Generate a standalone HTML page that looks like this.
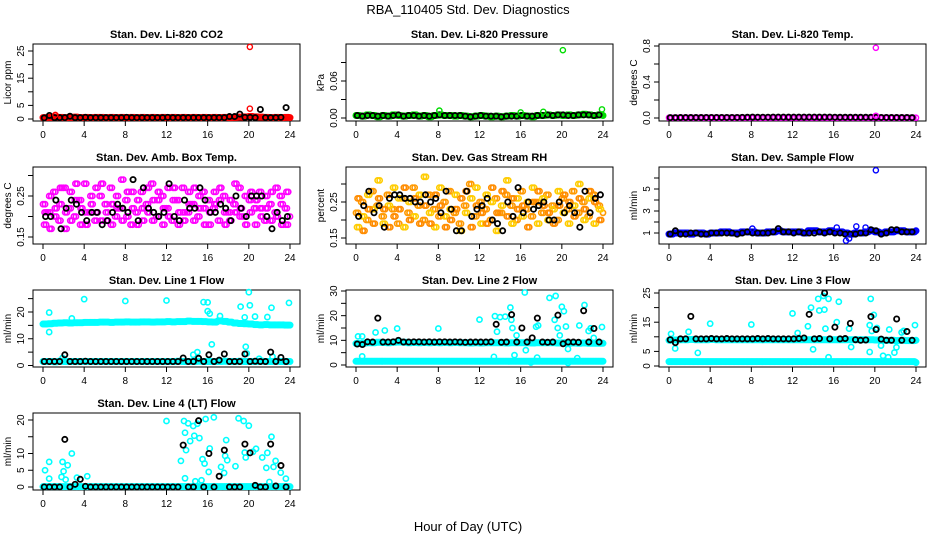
<!DOCTYPE html>
<html><head><meta charset="utf-8">
<style>
html,body{margin:0;padding:0;background:#fff;}
svg{display:block;font-family:"Liberation Sans",sans-serif;}
</style></head>
<body>
<svg id="chart" width="936" height="540" viewBox="0 0 936 540" xmlns="http://www.w3.org/2000/svg">
<text x="468" y="14" text-anchor="middle" font-size="13">RBA_110405  Std. Dev. Diagnostics</text>
<text x="468" y="531" text-anchor="middle" font-size="13">Hour of Day (UTC)</text>
</svg>
<script>
const hours = [0,0.5,1,1.5,2,2.5,3,3.5,4,4.5,5,5.5,6,6.5,7,7.5,8,8.5,9,9.5,10,10.5,11,11.5,12,12.5,13,13.5,14,14.5,15,15.5,16,16.5,17,17.5,18,18.5,19,19.5,20,20.5,21,21.5,22,22.5,23,23.5,24];
const xTicks = [0,4,8,12,16,20,24];

const co2Red = [0.5,0.6,0.8,0.6,0.5,0.6,0.7,0.5,0.6,0.5,0.6,0.6,0.5,0.6,0.5,0.6,0.5,0.6,0.5,0.6,0.5,0.6,0.5,0.6,0.5,0.6,0.5,0.6,0.5,0.6,0.5,0.6,0.5,0.6,0.5,0.6,0.5,0.6,0.7,0.8,0.9,0.8,0.7,0.6,0.5,0.6,0.5,0.6,0.5];
const co2Black = [0.4,1.3,0.5,0.5,0.5,1.0,0.5,0.5,0.6,0.5,0.5,0.5,0.5,0.5,0.5,0.5,0.6,0.5,0.5,0.5,0.5,0.5,0.5,0.5,0.6,0.5,0.5,0.5,0.5,0.5,0.5,0.5,0.5,0.5,0.5,0.5,0.9,0.9,1.8,0.6,0.6,0.5,3.5,0.5,0.5,0.5,0.6,4.2,0.5];
const co2RedOut = [[20.1,26.5],[20.1,3.8],[1.2,1.5]];

const presGreen = [0.004,0.003,0.005,0.004,0.002,0.004,0.003,0.005,0.004,0.003,0.004,0.005,0.003,0.004,0.002,0.004,0.005,0.004,0.004,0.003,0.004,0.003,0.002,0.003,0.004,0.003,0.002,0.003,0.002,0.003,0.004,0.003,0.004,0.003,0.002,0.004,0.004,0.005,0.004,0.005,0.004,0.005,0.004,0.005,0.006,0.005,0.004,0.005,0.004];
const presBlack = [0.004,0.003,0.004,0.004,0.003,0.004,0.003,0.004,0.005,0.003,0.004,0.004,0.003,0.004,0.003,0.004,0.005,0.004,0.004,0.004,0.004,0.003,0.002,0.003,0.004,0.003,0.003,0.003,0.002,0.003,0.003,0.003,0.004,0.003,0.003,0.004,0.004,0.005,0.004,0.005,0.005,0.004,0.004,0.005,0.005,0.005,0.004,0.005,0.004];
const presGreenOut = [[8.1,0.012],[16,0.009],[18.2,0.010],[20.1,0.110],[23.9,0.014]];

const tempMag = [0.003,0.003,0.004,0.003,0.003,0.004,0.003,0.003,0.004,0.003,0.003,0.004,0.003,0.003,0.004,0.003,0.005,0.004,0.003,0.004,0.005,0.004,0.004,0.005,0.004,0.004,0.005,0.004,0.004,0.005,0.004,0.004,0.004,0.004,0.004,0.004,0.004,0.004,0.004,0.004,0.005,0.003,0.003,0.003,0.003,0.003,0.003,0.003,0.003];
const tempBlack = [0.004,0.004,0.005,0.005,0.005,0.005,0.005,0.006,0.006,0.006,0.006,0.006,0.006,0.006,0.007,0.008,0.010,0.009,0.009,0.009,0.010,0.010,0.010,0.010,0.010,0.010,0.010,0.010,0.010,0.010,0.010,0.010,0.009,0.008,0.008,0.008,0.008,0.008,0.008,0.008,0.008,0.006,0.006,0.005,0.005,0.005,0.005,0.004,0.004];
const tempMagOut = [[20.1,0.78],[20.1,0.025]];

const ambA = [0.23,0.21,0.26,0.19,0.27,0.22,0.20,0.24,0.28,0.21,0.19,0.25,0.23,0.27,0.20,0.22,0.24,0.18,0.21,0.26,0.23,0.28,0.20,0.25,0.22,0.19,0.24,0.27,0.21,0.23,0.20,0.26,0.24,0.22,0.19,0.25,0.21,0.23,0.27,0.20,0.24,0.22,0.26,0.19,0.23,0.21,0.25,0.22,0.20];
const ambB = [0.18,0.25,0.20,0.23,0.17,0.26,0.24,0.18,0.21,0.25,0.27,0.19,0.21,0.18,0.25,0.29,0.20,0.26,0.18,0.22,0.27,0.19,0.24,0.18,0.27,0.24,0.18,0.21,0.26,0.19,0.25,0.22,0.18,0.26,0.24,0.21,0.19,0.28,0.20,0.25,0.21,0.18,0.22,0.25,0.19,0.27,0.23,0.18,0.24];
const ambC = [0.21,0.17,0.22,0.27,0.21,0.19,0.28,0.22,0.18,0.23,0.21,0.28,0.19,0.23,0.22,0.19,0.26,0.22,0.24,0.19,0.21,0.24,0.26,0.22,0.20,0.27,0.21,0.19,0.23,0.27,0.22,0.18,0.21,0.23,0.27,0.18,0.24,0.21,0.22,0.18,0.26,0.24,0.20,0.22,0.26,0.20,0.18,0.26,0.22];
const ambBlack = [0.20,0.20,0.24,0.17,0.22,0.24,0.23,0.21,0.19,0.21,0.21,0.18,0.19,0.21,0.23,0.22,0.21,0.29,0.19,0.27,0.22,0.21,0.20,0.21,0.28,0.20,0.19,0.24,0.22,0.22,0.27,0.24,0.21,0.21,0.23,0.22,0.19,0.25,0.22,0.20,0.25,0.25,0.25,0.20,0.17,0.21,0.19,0.20,0.22];

const rhA = [0.22,0.25,0.20,0.28,0.24,0.21,0.27,0.23,0.19,0.26,0.22,0.29,0.24,0.20,0.27,0.23,0.21,0.25,0.28,0.22,0.19,0.24,0.30,0.21,0.25,0.23,0.20,0.26,0.22,0.27,0.24,0.20,0.28,0.23,0.21,0.25,0.22,0.27,0.24,0.20,0.26,0.23,0.28,0.22,0.25,0.21,0.27,0.24,0.22];
const rhB = [0.18,0.21,0.27,0.23,0.31,0.19,0.24,0.29,0.26,0.18,0.25,0.21,0.27,0.32,0.22,0.18,0.29,0.21,0.23,0.27,0.17,0.22,0.26,0.29,0.19,0.27,0.25,0.17,0.24,0.31,0.19,0.26,0.21,0.25,0.29,0.19,0.26,0.20,0.23,0.28,0.22,0.19,0.24,0.30,0.20,0.26,0.19,0.23,0.32];
const rhC = [0.26,0.17,0.23,0.19,0.26,0.23,0.18,0.21,0.23,0.29,0.20,0.26,0.19,0.24,0.19,0.27,0.24,0.18,0.20,0.23,0.26,0.28,0.18,0.24,0.22,0.19,0.29,0.22,0.28,0.21,0.26,0.23,0.24,0.18,0.25,0.28,0.24,0.22,0.19,0.24,0.27,0.25,0.21,0.26,0.23,0.28,0.25,0.20,0.26];
const rhBlack = [0.21,0.24,0.28,0.22,0.24,0.18,0.26,0.27,0.27,0.26,0.26,0.25,0.25,0.27,0.25,0.26,0.22,0.28,0.23,0.17,0.17,0.28,0.21,0.23,0.24,0.26,0.20,0.19,0.17,0.25,0.21,0.29,0.22,0.25,0.23,0.24,0.25,0.20,0.20,0.25,0.22,0.24,0.22,0.18,0.28,0.22,0.26,0.27,0.20];

const flowBlue = [0.9,1.0,1.0,1.0,0.9,1.0,1.0,0.9,1.0,1.0,1.1,1.1,1.0,1.0,1.1,1.1,1.1,1.0,1.0,1.1,1.1,1.2,1.1,1.1,1.1,1.1,1.0,1.2,1.2,1.1,1.1,1.2,1.1,1.1,1.0,0.9,1.0,1.0,1.1,1.2,1.1,1.0,1.1,1.1,1.2,1.2,1.1,1.1,1.2];
const flowBlack = [0.9,1.2,0.9,0.9,1.0,1.0,0.9,0.9,1.0,1.0,1.0,1.0,1.0,0.9,1.0,1.1,1.0,1.0,1.0,1.0,1.1,1.4,1.1,1.1,1.0,1.1,1.0,1.0,1.0,1.1,1.0,1.1,1.0,1.0,0.9,0.9,0.9,1.0,1.0,1.3,1.2,0.9,1.0,1.3,1.3,1.1,1.1,1.1,1.3];
const flowBlueOut = [[17.2,0.3],[17.5,0.5],[18.2,1.6],[16.3,1.5],[19.1,1.5],[8.1,1.4],[20.1,6.7]];

const l1Hi = [15.5,15.6,15.8,15.9,16.0,15.9,16.0,16.0,16.1,16.1,16.1,16.2,16.2,16.1,16.2,16.2,16.3,16.2,16.2,16.3,16.3,16.2,16.3,16.3,16.4,16.3,16.4,16.4,16.6,16.5,16.5,16.4,16.3,16.2,16.7,16.5,16.2,15.9,15.7,15.6,15.5,15.3,15.2,15.3,15.2,15.2,15.2,15.1,15.1];
const l1Lo = [1.5,1.5,1.4,1.6,1.5,1.5,1.5,1.5,1.5,1.5,1.5,1.5,1.5,1.5,1.5,1.5,1.5,1.5,1.5,1.5,1.5,1.5,1.5,1.5,1.5,1.5,1.6,1.5,1.5,1.5,1.6,1.5,1.5,1.5,1.5,1.6,1.5,1.5,1.6,1.5,1.5,1.5,1.6,1.5,1.5,1.6,1.5,1.5,1.5];
const l1Black = [1.5,1.5,1.5,1.5,4.0,1.5,1.5,1.5,1.6,1.5,1.5,1.5,1.5,1.5,1.5,1.5,1.5,1.5,1.5,1.5,1.5,1.5,1.5,1.5,1.5,1.5,1.5,2.8,1.5,1.5,2.7,1.5,4.0,1.5,2.0,4.3,1.5,1.5,1.5,4.3,1.5,1.6,1.5,1.5,5.0,1.5,3.0,1.5,1.5];
const l1Out = [[0.6,19.8],[0.6,12.5],[2.8,17.6],[4.0,24.8],[8.0,24.1],[12.0,24.3],[15.6,23.7],[16.0,23.6],[16.0,20.3],[16.2,19.4],[16.4,7.9],[15.0,5.0],[14.6,4.0],[17.2,18.5],[19.2,22.0],[19.6,18.0],[19.7,7.0],[19.8,4.5],[20.0,27.4],[20.1,22.5],[20.6,18.3],[21.8,18.1],[22.2,21.6],[23.9,23.4],[22.3,3.3],[1.9,2.8],[21.0,2.5]];

const l2Hi = [8.7,8.8,9.0,9.0,9.2,9.1,9.0,9.2,9.3,9.2,9.0,9.1,9.0,9.1,9.0,9.1,9.0,9.1,9.0,9.1,9.0,9.0,8.9,9.0,8.9,9.0,9.0,9.0,9.0,8.9,9.0,9.0,9.0,9.0,8.9,9.0,9.0,9.0,9.0,8.9,9.0,8.8,8.9,8.8,8.9,8.8,8.8,8.8,8.8];
const l2Lo = [1.5,1.5,1.5,1.5,1.5,1.5,1.5,1.5,1.5,1.5,1.5,1.5,1.5,1.5,1.5,1.5,1.5,1.5,1.5,1.5,1.5,1.5,1.5,1.5,1.5,1.5,1.5,1.5,1.5,1.5,1.5,1.5,1.5,1.5,1.5,1.5,1.5,1.5,1.5,1.5,1.5,1.5,1.5,1.5,1.5,1.5,1.5,1.5,1.5];
const l2Black = [8.5,8.3,9.4,9.3,19.0,9.3,9.3,9.4,10.0,9.3,9.3,9.4,9.4,9.3,9.4,9.3,9.4,9.4,9.3,9.4,9.3,9.2,9.3,9.3,9.3,9.3,9.4,16.5,9.2,9.3,20.4,9.3,15.0,9.3,11.0,19.0,9.3,9.2,9.3,20.2,8.6,9.3,9.3,9.2,22.0,9.3,14.8,9.3,9.1];
const l2Out = [[0.2,11.6],[0.6,11.6],[0.6,3.5],[1.9,13.2],[2.8,14.0],[4.0,14.8],[8.0,14.8],[12.0,18.4],[13.5,19.8],[13.7,13.5],[14.0,19.4],[14.5,19.6],[15.0,23.3],[15.1,18.3],[15.2,15.0],[15.6,12.0],[16.4,29.4],[16.5,6.0],[17.5,15.5],[17.7,16.0],[18.8,27.2],[19.4,28.0],[19.3,18.3],[19.6,15.0],[19.8,12.0],[20.0,23.6],[20.2,21.8],[20.4,15.6],[20.6,6.5],[21.7,16.0],[22.2,24.3],[22.6,13.8],[22.8,14.9],[23.9,15.4],[13.4,3.3],[15.4,4.0],[17.0,1.0],[17.6,3.0],[20.6,0.8],[21.5,2.8],[23.1,11.0]];

const l3Hi = [8.8,8.9,9.0,9.0,9.1,9.0,9.0,9.0,9.1,9.0,9.0,9.0,9.0,9.0,9.0,9.0,9.0,9.0,9.0,9.0,9.0,9.0,9.0,9.0,9.0,9.0,9.0,9.0,9.0,9.0,9.0,9.0,9.0,9.0,9.0,9.0,9.0,9.0,9.0,9.0,8.9,8.8,8.8,8.8,8.7,8.8,8.7,8.7,8.8];
const l3Lo = [1.5,1.5,1.5,1.5,1.5,1.5,1.5,1.5,1.5,1.5,1.5,1.5,1.5,1.5,1.5,1.5,1.5,1.5,1.5,1.5,1.5,1.5,1.5,1.5,1.5,1.5,1.5,1.5,1.5,1.5,1.5,1.5,1.5,1.5,1.5,1.5,1.5,1.5,1.5,1.5,1.5,1.5,1.5,1.5,1.5,1.5,1.5,1.5,1.2];
const l3Black = [9.0,8.0,9.3,9.3,17.0,9.3,9.3,9.3,9.4,9.3,9.3,9.4,9.3,9.3,9.3,9.3,9.3,9.4,9.3,9.4,9.3,9.3,9.3,9.3,9.3,9.4,9.6,17.7,9.3,9.4,25.0,9.3,13.3,9.3,9.4,14.6,9.0,8.8,8.9,16.9,12.5,9.2,8.8,8.8,16.1,8.8,11.8,8.8,8.8];
const l3Out = [[0.2,11.0],[0.6,6.0],[1.9,11.7],[2.8,4.5],[4.0,14.5],[8.0,14.2],[12.0,18.0],[12.5,11.3],[13.5,13.6],[13.8,20.0],[14.0,5.7],[14.5,23.0],[14.6,19.0],[15.0,24.0],[15.1,19.3],[15.2,12.8],[15.5,23.0],[16.3,15.0],[16.5,22.0],[17.5,12.8],[17.7,6.5],[19.5,14.0],[19.6,23.0],[19.7,12.0],[19.9,17.5],[20.2,13.0],[20.6,7.0],[20.8,3.5],[21.4,12.5],[21.9,4.6],[22.1,6.4],[22.6,11.5],[22.8,12.0],[23.9,14.0],[15.5,3.0],[19.5,4.8],[21.3,3.0]];

const l4Lo = [0.1,0.1,0.1,0.1,0.1,0.1,0.1,0.1,0.1,0.1,0.1,0.1,0.1,0.1,0.1,0.1,0.1,0.1,0.1,0.1,0.1,0.1,0.1,0.1,0.1,0.1,0.1,0.1,0.1,0.1,0.1,0.1,0.1,0.1,0.1,0.1,0.1,0.1,0.1,0.1,0.1,0.1,0.1,0.1,0.1,0.1,0.1,0.1,0.1];
const l4Black = [0.0,0.0,0.0,0.0,14.2,0.0,0.8,2.3,0.2,0.0,0.0,0.0,0.0,0.0,0.0,0.0,0.0,0.0,0.0,0.0,0.0,0.0,0.0,0.0,0.0,0.0,0.0,12.5,0.0,0.0,19.8,0.0,10.0,0.0,3.2,11.0,0.0,0.0,0.0,12.8,10.2,0.5,0.0,0.0,12.8,0.3,6.4,0.0,0.2];
const l4Out = [[0.2,5.0],[0.6,7.5],[0.6,2.5],[1.8,3.0],[1.9,7.5],[2.0,4.7],[2.2,2.2],[2.4,6.5],[2.8,10.0],[3.3,2.8],[4.3,3.2],[12.0,19.7],[13.4,7.8],[13.7,19.7],[13.8,16.2],[13.9,11.0],[14.1,19.0],[14.3,13.7],[14.6,18.2],[14.7,15.3],[15.0,18.9],[15.2,14.6],[15.5,8.3],[15.8,20.3],[15.7,7.0],[16.1,4.5],[16.2,11.5],[16.6,20.8],[17.3,6.0],[17.6,4.2],[17.7,9.3],[17.9,8.0],[17.8,14.0],[18.7,6.2],[19.0,20.5],[19.5,19.7],[19.6,10.3],[19.7,8.8],[20.0,18.3],[20.4,10.5],[20.7,11.4],[21.3,8.8],[21.8,10.2],[21.7,5.7],[22.2,15.0],[22.6,7.8],[22.4,6.0],[23.1,4.3],[23.6,2.5],[22.0,1.5],[13.8,2.6],[14.8,1.7],[15.4,2.0]];

// ---- drawing ----
const NS = "http://www.w3.org/2000/svg";
const svg = document.getElementById('chart');
function mk(tag, attrs, parent){ const e=document.createElementNS(NS,tag); for(const k in attrs) e.setAttribute(k,attrs[k]); (parent||svg).appendChild(e); return e; }

const colLeft = [33,346,659], rowTop = [44,167,290,413], boxW = 267, boxH = 77;

function panel(cfg){
  const L = colLeft[cfg.col], T = rowTop[cfg.row];
  const g = mk('g',{});
  
  
  const xs = t => L + 10 + t * 247 / 24;
  const ys = v => cfg.p0 + (v - cfg.v0) * (cfg.p1 - cfg.p0) / (cfg.v1 - cfg.v0);
  const box = mk('rect',{x:L,y:T,width:boxW,height:boxH,fill:'none',stroke:'#000','stroke-width':1},g);
  
  
  const tt = mk('text',{x:L+boxW/2,y:T-6,'text-anchor':'middle','font-size':11,'font-weight':'bold'},g);
  tt.textContent = cfg.title;
  
  
  const by = T + boxH;
  mk('line',{x1:xs(xTicks[0]),x2:xs(xTicks[xTicks.length-1]),y1:by,y2:by,stroke:'#000'},g);
  xTicks.forEach(t=>{
    mk('line',{x1:xs(t),x2:xs(t),y1:by,y2:by+5,stroke:'#000'},g);
    const lb = mk('text',{x:xs(t),y:by+17,'text-anchor':'middle','font-size':10},g);
    lb.textContent = String(t);
    
    
  });
  const yt = cfg.yTicks;
  mk('line',{x1:L,x2:L,y1:ys(yt[0]),y2:ys(yt[yt.length-1]),stroke:'#000'},g);
  yt.forEach(v=>{ mk('line',{x1:L-5,x2:L,y1:ys(v),y2:ys(v),stroke:'#000'},g); });
  cfg.yLabels.forEach((s,i)=>{
    const v = cfg.yLabelVals[i];
    const lb = mk('text',{x:L-9,y:ys(v),'text-anchor':'middle','font-size':10,transform:`rotate(-90 ${L-9} ${ys(v)})`},g);
    lb.textContent = s;
    
    
  });
  const yl = mk('text',{x:L-22,y:T+boxH/2,'text-anchor':'middle','font-size':10,transform:`rotate(-90 ${L-22} ${T+boxH/2})`},g);
  yl.textContent = cfg.ylab;
  
  
  cfg.series.forEach(s=>{
    const sg = mk('g',{fill:'none',stroke:s.color,'stroke-width':s.sw||1.4},g);
    
    
    const offs = s.offs || [0];
    if(s.vals) offs.forEach(o=>{ s.vals.forEach((v,i)=>{
      const t = hours[i]+o; if(t>24.05) return;
      const c = mk('circle',{cx:xs(t),cy:ys(v),r:2.6},sg);
      
      
    });});
    if(s.pts) s.pts.forEach(p=>{
      const c = mk('circle',{cx:xs(p[0]),cy:ys(p[1]),r:2.6},sg);
      
      
    });
  });
}

const K = '#000';
const band = [0,0.12,0.25,0.37];
const cloud1 = [0,0.2], cloud2 = [0.1,0.3], cloud3 = [0.4];
panel({name:'co2-panel',col:0,row:0,title:'Stan. Dev. Li-820 CO2',ylab:'Licor ppm',v0:0,p0:119,v1:25,p1:51,
  yTicks:[0,5,10,15,20,25],yLabels:['0','5','15','25'],yLabelVals:[0,5,15,25],
  series:[{name:'co2-red',color:'#ff0000',sw:1.8,vals:co2Red,offs:band},{name:'co2-black',color:K,sw:1.8,vals:co2Black,offs:[0.12]},{name:'co2-red-outliers',color:'#ff0000',pts:co2RedOut}]});
panel({name:'pressure-panel',col:1,row:0,title:'Stan. Dev. Li-820 Pressure',ylab:'kPa',v0:0,p0:118,v1:0.06,p1:81,
  yTicks:[0,0.03,0.06,0.09],yLabels:['0.00','0.06'],yLabelVals:[0,0.06],
  series:[{name:'pressure-green',color:'#00dd00',sw:1.8,vals:presGreen,offs:band},{name:'pressure-black',color:K,sw:1.8,vals:presBlack,offs:[0.12]},{name:'pressure-green-outliers',color:'#00dd00',pts:presGreenOut}]});
panel({name:'temp-panel',col:2,row:0,title:'Stan. Dev. Li-820 Temp.',ylab:'degrees C',v0:0,p0:118,v1:0.8,p1:46,
  yTicks:[0,0.2,0.4,0.6,0.8],yLabels:['0.0','0.4','0.8'],yLabelVals:[0,0.4,0.8],
  series:[{name:'temp-magenta',color:'#ff00ff',vals:tempMag,offs:[0,0.25]},{name:'temp-black',color:K,sw:1.8,vals:tempBlack,offs:[0.12]},{name:'temp-magenta-outliers',color:'#ff00ff',pts:tempMagOut}]});
panel({name:'ambient-panel',col:0,row:1,title:'Stan. Dev. Amb. Box Temp.',ylab:'degrees C',v0:0.15,p0:237,v1:0.25,p1:196,
  yTicks:[0.15,0.2,0.25,0.3],yLabels:['0.15','0.25'],yLabelVals:[0.15,0.25],
  series:[{name:'ambient-magenta-a',color:'#ff00ff',sw:1.6,vals:ambA,offs:cloud1},{name:'ambient-magenta-b',color:'#ff00ff',sw:1.6,vals:ambB,offs:cloud2},{name:'ambient-magenta-c',color:'#ff00ff',sw:1.6,vals:ambC,offs:[0.33,0.15]},{name:'ambient-black',color:K,sw:1.8,vals:ambBlack,offs:[0.25]}]});
panel({name:'rh-panel',col:1,row:1,title:'Stan. Dev. Gas Stream RH',ylab:'percent',v0:0.15,p0:238,v1:0.25,p1:202,
  yTicks:[0.15,0.2,0.25,0.3],yLabels:['0.15','0.25'],yLabelVals:[0.15,0.25],
  series:[{name:'rh-orange-a',color:'#ff9900',sw:1.6,vals:rhA,offs:cloud1},{name:'rh-yellow-b',color:'#ffcc00',sw:1.6,vals:rhB,offs:cloud2},{name:'rh-orange-c',color:'#ff8c00',sw:1.6,vals:rhC,offs:[0.33,0.15]},{name:'rh-black',color:K,sw:1.8,vals:rhBlack,offs:[0.25]}]});
panel({name:'sample-flow-panel',col:2,row:1,title:'Stan. Dev. Sample Flow',ylab:'ml/min',v0:1,p0:233,v1:3,p1:211,
  yTicks:[1,2,3,4,5,6],yLabels:['1','3','5'],yLabelVals:[1,3,5],
  series:[{name:'sample-flow-blue',color:'#0000ff',sw:1.8,vals:flowBlue,offs:band},{name:'sample-flow-black',color:K,sw:1.8,vals:flowBlack,offs:[0.12]},{name:'sample-flow-blue-outliers',color:'#0000ff',pts:flowBlueOut}]});
panel({name:'line1-panel',col:0,row:2,title:'Stan. Dev. Line 1 Flow',ylab:'ml/min',v0:0,p0:365.5,v1:20,p1:312,
  yTicks:[0,5,10,15,20,25],yLabels:['0','10','20'],yLabelVals:[0,10,20],
  series:[{name:'line1-cyan-high',color:'#00ffff',sw:1.8,vals:l1Hi,offs:band},{name:'line1-cyan-low',color:'#00ffff',sw:1.8,vals:l1Lo,offs:band},{name:'line1-cyan-outliers',color:'#00ffff',sw:1.6,pts:l1Out},{name:'line1-black',color:K,sw:1.8,vals:l1Black,offs:[0.12]}]});
panel({name:'line2-panel',col:1,row:2,title:'Stan. Dev. Line 2 Flow',ylab:'ml/min',v0:0,p0:365,v1:30,p1:291,
  yTicks:[0,5,10,15,20,25,30],yLabels:['0','10','20','30'],yLabelVals:[0,10,20,30],
  series:[{name:'line2-cyan-high',color:'#00ffff',sw:1.8,vals:l2Hi,offs:band},{name:'line2-cyan-low',color:'#00ffff',sw:1.8,vals:l2Lo,offs:band},{name:'line2-cyan-outliers',color:'#00ffff',sw:1.6,pts:l2Out},{name:'line2-black',color:K,sw:1.8,vals:l2Black,offs:[0.12]}]});
panel({name:'line3-panel',col:2,row:2,title:'Stan. Dev. Line 3 Flow',ylab:'ml/min',v0:0,p0:366,v1:25,p1:293,
  yTicks:[0,5,10,15,20,25],yLabels:['0','5','15','25'],yLabelVals:[0,5,15,25],
  series:[{name:'line3-cyan-high',color:'#00ffff',sw:1.8,vals:l3Hi,offs:band},{name:'line3-cyan-low',color:'#00ffff',sw:1.8,vals:l3Lo,offs:band},{name:'line3-cyan-outliers',color:'#00ffff',sw:1.6,pts:l3Out},{name:'line3-black',color:K,sw:1.8,vals:l3Black,offs:[0.12]}]});
panel({name:'line4-panel',col:0,row:3,title:'Stan. Dev. Line 4 (LT) Flow',ylab:'ml/min',v0:0,p0:487,v1:20,p1:420,
  yTicks:[0,5,10,15,20],yLabels:['0','5','10','20'],yLabelVals:[0,5,10,20],
  series:[{name:'line4-cyan-low',color:'#00ffff',sw:1.8,vals:l4Lo,offs:band},{name:'line4-cyan-outliers',color:'#00ffff',sw:1.6,pts:l4Out},{name:'line4-black',color:K,sw:1.8,vals:l4Black,offs:[0.12]}]});
</script>
</body></html>
